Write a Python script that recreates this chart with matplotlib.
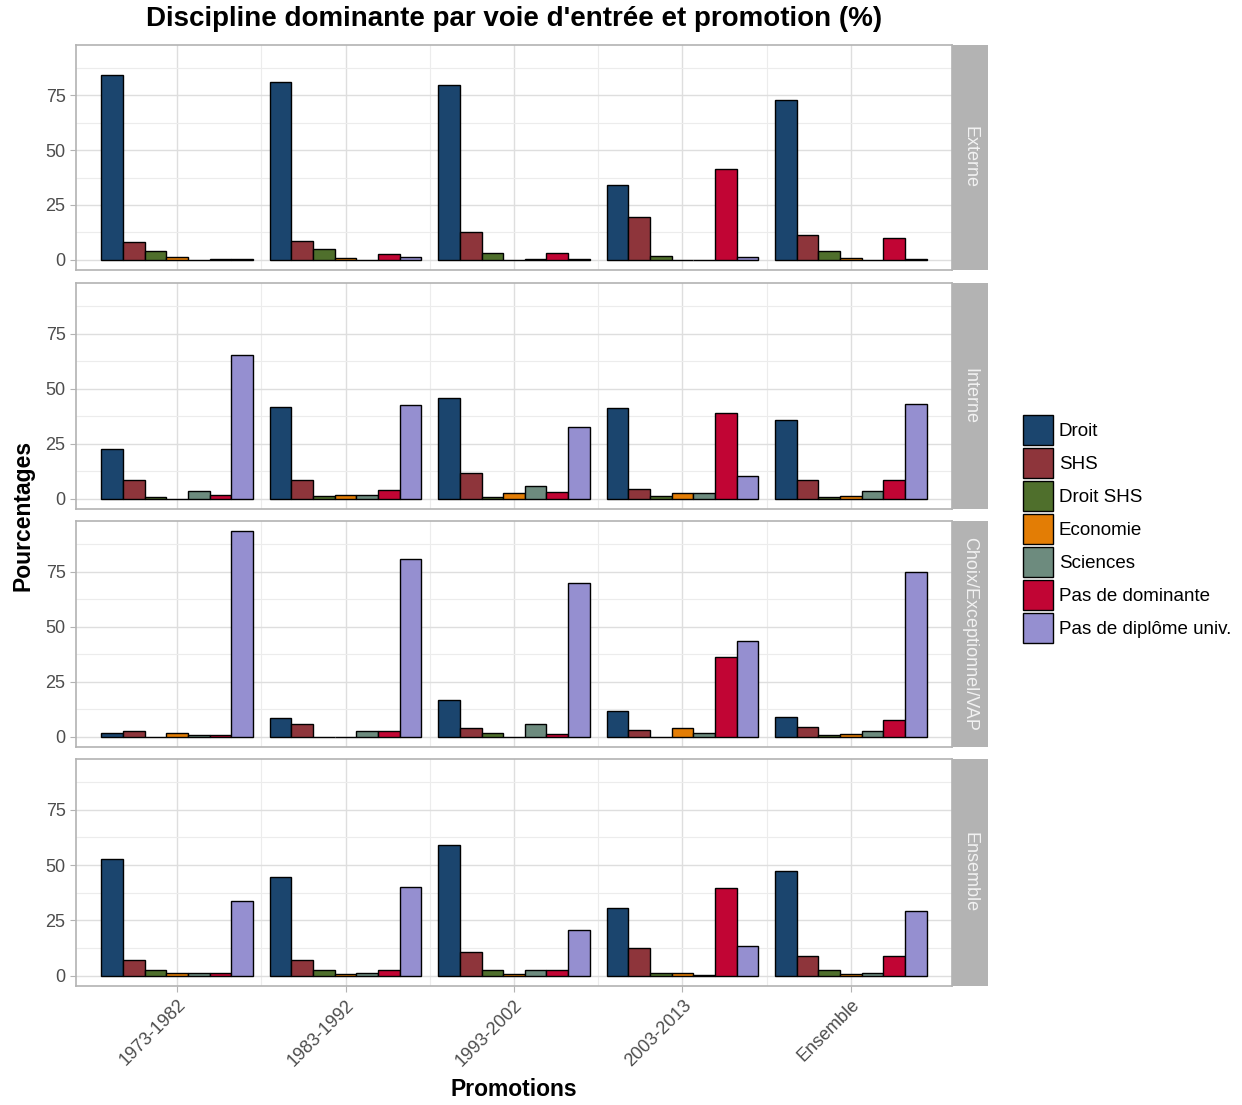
import numpy as np
import matplotlib.pyplot as plt
from matplotlib.patches import Patch

plt.rcParams['font.family'] = ['Liberation Sans', 'DejaVu Sans']

# categories
promotions = ['1973-1982', '1983-1992', '1993-2002', '2003-2013', 'Ensemble']
voies = ['Externe', 'Interne', 'Choix/Exceptionnel/VAP', 'Ensemble']
disciplines = ['Droit', 'SHS', 'Droit SHS', 'Economie', 'Sciences',
               'Pas de dominante', 'Pas de diplôme univ.']
couleurs = ['#1b456e', '#8e353b', '#4f6f2c', '#e37d05', '#6d8b7e',
            '#c10534', '#958fd0']

# values (%) per voie, one row per promotion, one column per discipline
externe = [[84.4, 7.9, 3.9, 1.2, 0.0, 0.5, 0.5],
           [80.9, 8.6, 5.1, 0.6, 0.0, 2.6, 1.2],
           [79.6, 12.6, 3.2, 0.0, 0.5, 3.3, 0.5],
           [34.2, 19.7, 1.8, 0.0, 0.0, 41.5, 1.2],
           [73.1, 11.2, 4.1, 0.6, 0.0, 9.8, 0.5]]
interne = [[22.8, 8.5, 0.6, 0.0, 3.3, 1.9, 65.1],
           [41.8, 8.5, 1.3, 1.8, 1.9, 3.9, 42.4],
           [45.7, 11.7, 0.6, 2.5, 5.8, 3.1, 32.5],
           [41.0, 4.5, 1.2, 2.5, 2.5, 38.9, 10.3],
           [35.8, 8.5, 0.6, 1.2, 3.3, 8.5, 43.0]]
choix = [[1.9, 2.4, 0.0, 1.8, 0.6, 0.6, 93.3],
         [8.4, 5.7, 0.0, 0.0, 2.4, 2.4, 80.8],
         [16.8, 3.9, 1.9, 0.0, 5.8, 1.2, 69.8],
         [11.7, 3.1, 0.0, 3.9, 1.9, 36.4, 43.6],
         [9.1, 4.6, 0.9, 1.3, 2.4, 7.6, 74.9]]
ensemble = [[52.7, 6.9, 2.4, 1.0, 1.0, 1.0, 33.8],
            [44.8, 6.9, 2.4, 0.6, 1.2, 2.4, 40.3],
            [59.3, 10.9, 2.4, 0.6, 2.4, 2.4, 20.8],
            [30.4, 12.3, 1.0, 1.0, 0.4, 39.7, 13.5],
            [47.5, 9.0, 2.4, 0.6, 1.2, 9.0, 29.2]]
tableaux = [externe, interne, choix, ensemble]

W, H = 1242, 1105
fig = plt.figure(figsize=(W / 100, H / 100), dpi=100)

# panel rows in pixels (top, bottom)
rows = [(45, 270), (283, 509), (521, 747), (759, 986)]
x0, x1, xs = 76, 952, 988

ymax = max(max(max(r) for r in t) for t in tableaux)
ylim = (-0.05 * ymax, 1.05 * ymax)
x = np.arange(len(promotions))
n = len(disciplines)
w = 0.9 / n

for k, (voie, tab) in enumerate(zip(voies, tableaux)):
    top, bot = rows[k]
    ax = fig.add_axes([x0 / W, 1 - bot / H, (x1 - x0) / W, (bot - top) / H])
    vals = np.array(tab)
    for j in range(n):
        ax.bar(x - 0.45 + w * (j + 0.5), vals[:, j], width=w, color=couleurs[j],
               edgecolor='black', linewidth=1.0, zorder=3)
    ax.set_xlim(-0.6, len(promotions) - 0.4)
    ax.set_ylim(*ylim)
    ax.set_yticks([0, 25, 50, 75])
    ax.set_yticks([12.5, 37.5, 62.5, 87.5], minor=True)
    ax.set_xticks(x)
    ax.set_xticks(x[:-1] + 0.5, minor=True)
    ax.grid(which='major', color='#dedede', linewidth=1.0, zorder=0)
    ax.grid(which='minor', color='#ececec', linewidth=0.8, zorder=0)
    for s in ax.spines.values():
        s.set_color('#b3b3b3')
        s.set_linewidth(1.2)
    ax.tick_params(axis='both', which='major', color='#b3b3b3', length=4,
                   labelsize=13, labelcolor='#4d4d4d')
    ax.tick_params(which='minor', length=0)
    if k == len(voies) - 1:
        ax.set_xticklabels(promotions, rotation=45, ha='right',
                           rotation_mode='anchor')
    else:
        ax.set_xticklabels([])
        ax.tick_params(axis='x', which='major', length=0)

    sax = fig.add_axes([x1 / W, 1 - bot / H, (xs - x1) / W, (bot - top) / H])
    sax.set_facecolor('#b3b3b3')
    sax.set_xticks([])
    sax.set_yticks([])
    for s in sax.spines.values():
        s.set_visible(False)
    sax.text(0.5, 0.5, voie, rotation=-90, ha='center', va='center',
             color='#f2f2f2', fontsize=13, transform=sax.transAxes)

fig.text((x0 + x1) / 2 / W, 1 - 19 / H,
         "Discipline dominante par voie d'entrée et promotion (%)",
         ha='center', va='center', fontsize=20, fontweight='bold')
fig.text((x0 + x1) / 2 / W, 1 - 1090 / H, 'Promotions', ha='center',
         va='center', fontsize=16.5, fontweight='bold')
fig.text(23 / W, 1 - 515 / H, 'Pourcentages', ha='center', va='center',
         rotation=90, fontsize=16.5, fontweight='bold')

handles = [Patch(facecolor=c, edgecolor='black', linewidth=1.0)
           for c in couleurs]
fig.legend(handles, disciplines, loc='center left',
           bbox_to_anchor=(1014 / W, 1 - 529 / H), frameon=False,
           fontsize=13.5, handlelength=1.6, handleheight=2.085,
           handletextpad=0.3, labelspacing=0.16, borderpad=0)

fig.savefig('out.png', dpi=100)
